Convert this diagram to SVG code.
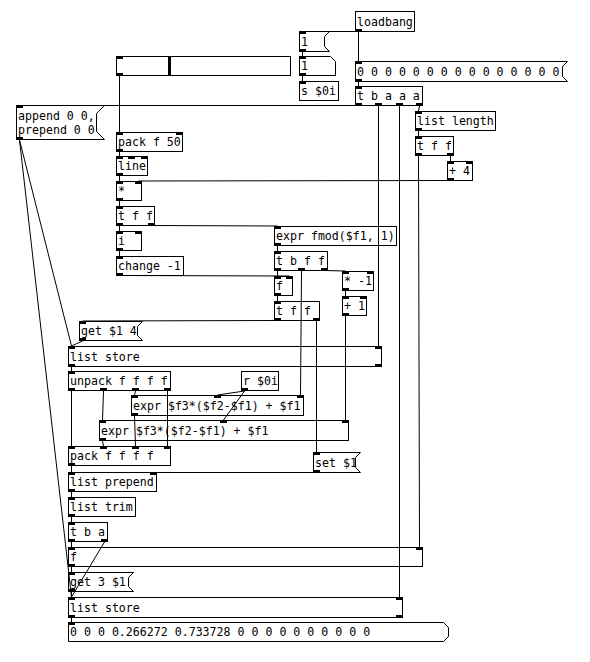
<svg xmlns="http://www.w3.org/2000/svg" width="590" height="662" viewBox="0 0 590 662">
<style>
.b{fill:#fff;stroke:#000;stroke-width:1}
.io{fill:#000}
text{font-family:"DejaVu Sans Mono","Liberation Mono",monospace;font-size:11.6px;fill:#000}
#connections line{stroke:#000;stroke-width:1}
</style>
<rect width="590" height="662" fill="#fff"/>
<g id="nodes">
<g id="loadbang"><rect class="b" x="355.5" y="11.5" width="59" height="20"/><rect class="io" x="355" y="29" width="7" height="3"/><text x="357" y="26">loadbang</text></g>
<g id="msg1"><polygon class="b" points="299.5,31.5 329.5,31.5 324.5,36.5 324.5,46.5 329.5,51.5 299.5,51.5"/><rect class="io" x="299" y="31" width="7" height="3"/><rect class="io" x="299" y="49" width="7" height="3"/><text x="301" y="46">1</text></g>
<g id="num1"><polygon class="b" points="299.5,56.5 330.5,56.5 335.5,61.5 335.5,75.5 299.5,75.5"/><rect class="io" x="299" y="56" width="7" height="3"/><rect class="io" x="299" y="73" width="7" height="3"/><text x="301" y="70">1</text></g>
<g id="send0i"><rect class="b" x="299.5" y="81.5" width="39" height="19"/><rect class="io" x="299" y="81" width="7" height="3"/><text x="301" y="95">s $0i</text></g>
<g id="zeros"><polygon class="b" points="355.5,61.5 567.5,61.5 562.5,66.5 562.5,76.5 567.5,81.5 355.5,81.5"/><rect class="io" x="355" y="61" width="7" height="3"/><rect class="io" x="355" y="79" width="7" height="3"/><text x="357" y="76">0 0 0 0 0 0 0 0 0 0 0 0 0 0 0</text></g>
<g id="tbaaa"><rect class="b" x="355.5" y="86.5" width="67" height="19"/><rect class="io" x="355" y="86" width="7" height="3"/><rect class="io" x="355" y="103" width="7" height="3"/><rect class="io" x="375" y="103" width="7" height="3"/><rect class="io" x="396" y="103" width="7" height="3"/><rect class="io" x="416" y="103" width="7" height="3"/><text x="357" y="100">t b a a a</text></g>
<g id="appendmsg"><polygon class="b" points="16.5,105.5 104.5,105.5 96.5,113.5 96.5,131.5 104.5,139.5 16.5,139.5"/><rect class="io" x="16" y="105" width="7" height="3"/><rect class="io" x="16" y="137" width="7" height="3"/><text x="18" y="120">append 0 0,</text><text x="18" y="134">prepend 0 0</text></g>
<g id="slider"><rect class="b" x="116.5" y="56.5" width="174" height="19"/><rect class="io" x="116" y="56" width="7" height="3"/><rect class="io" x="116" y="73" width="7" height="3"/><rect class="io" x="168" y="57" width="3" height="18"/></g>
<g id="packf50"><rect class="b" x="116.5" y="132.5" width="66" height="19"/><rect class="io" x="116" y="132" width="7" height="3"/><rect class="io" x="176" y="132" width="7" height="3"/><rect class="io" x="116" y="149" width="7" height="3"/><text x="118" y="146">pack f 50</text></g>
<g id="line"><rect class="b" x="116.5" y="156.5" width="31" height="19"/><rect class="io" x="116" y="156" width="7" height="3"/><rect class="io" x="128" y="156" width="7" height="3"/><rect class="io" x="141" y="156" width="7" height="3"/><rect class="io" x="116" y="173" width="7" height="3"/><text x="118" y="170">line</text></g>
<g id="mul"><rect class="b" x="116.5" y="181.5" width="25" height="19"/><rect class="io" x="116" y="181" width="7" height="3"/><rect class="io" x="135" y="181" width="7" height="3"/><rect class="io" x="116" y="198" width="7" height="3"/><text x="118" y="195">*</text></g>
<g id="tff1"><rect class="b" x="116.5" y="206.5" width="38" height="19"/><rect class="io" x="116" y="206" width="7" height="3"/><rect class="io" x="116" y="223" width="7" height="3"/><rect class="io" x="148" y="223" width="7" height="3"/><text x="118" y="220">t f f</text></g>
<g id="int"><rect class="b" x="116.5" y="231.5" width="25" height="19"/><rect class="io" x="116" y="231" width="7" height="3"/><rect class="io" x="135" y="231" width="7" height="3"/><rect class="io" x="116" y="248" width="7" height="3"/><text x="118" y="245">i</text></g>
<g id="change"><rect class="b" x="116.5" y="256.5" width="67" height="19"/><rect class="io" x="116" y="256" width="7" height="3"/><rect class="io" x="116" y="273" width="7" height="3"/><text x="118" y="270">change -1</text></g>
<g id="listlength"><rect class="b" x="415.5" y="111.5" width="80" height="19"/><rect class="io" x="415" y="111" width="7" height="3"/><rect class="io" x="415" y="128" width="7" height="3"/><text x="417" y="125">list length</text></g>
<g id="tffR"><rect class="b" x="415.5" y="136.5" width="38" height="19"/><rect class="io" x="415" y="136" width="7" height="3"/><rect class="io" x="415" y="153" width="7" height="3"/><rect class="io" x="447" y="153" width="7" height="3"/><text x="417" y="150">t f f</text></g>
<g id="plus4"><rect class="b" x="447.5" y="161.5" width="25" height="19"/><rect class="io" x="447" y="161" width="7" height="3"/><rect class="io" x="466" y="161" width="7" height="3"/><rect class="io" x="447" y="178" width="7" height="3"/><text x="449" y="175">+ 4</text></g>
<g id="exprfmod"><rect class="b" x="274.5" y="226.5" width="122" height="19"/><rect class="io" x="274" y="226" width="7" height="3"/><rect class="io" x="274" y="243" width="7" height="3"/><text x="276" y="240">expr fmod($f1, 1)</text></g>
<g id="tbff"><rect class="b" x="274.5" y="251.5" width="53" height="19"/><rect class="io" x="274" y="251" width="7" height="3"/><rect class="io" x="274" y="268" width="7" height="3"/><rect class="io" x="298" y="268" width="7" height="3"/><rect class="io" x="321" y="268" width="7" height="3"/><text x="276" y="265">t b f f</text></g>
<g id="fmid"><rect class="b" x="274.5" y="276.5" width="18" height="19"/><rect class="io" x="274" y="276" width="7" height="3"/><rect class="io" x="286" y="276" width="7" height="3"/><rect class="io" x="274" y="293" width="7" height="3"/><text x="276" y="290">f</text></g>
<g id="tffmid"><rect class="b" x="274.5" y="301.5" width="45" height="19"/><rect class="io" x="274" y="301" width="7" height="3"/><rect class="io" x="274" y="318" width="7" height="3"/><rect class="io" x="313" y="318" width="7" height="3"/><text x="276" y="315">t f f</text></g>
<g id="mulm1"><rect class="b" x="342.5" y="271.5" width="31" height="19"/><rect class="io" x="342" y="271" width="7" height="3"/><rect class="io" x="367" y="271" width="7" height="3"/><rect class="io" x="342" y="288" width="7" height="3"/><text x="344" y="285">* -1</text></g>
<g id="plus1"><rect class="b" x="342.5" y="296.5" width="24" height="19"/><rect class="io" x="342" y="296" width="7" height="3"/><rect class="io" x="360" y="296" width="7" height="3"/><rect class="io" x="342" y="313" width="7" height="3"/><text x="344" y="310">+ 1</text></g>
<g id="get14"><polygon class="b" points="79.5,321.5 142.5,321.5 137.5,326.5 137.5,335.5 142.5,340.5 79.5,340.5"/><rect class="io" x="79" y="321" width="7" height="3"/><rect class="io" x="79" y="338" width="7" height="3"/><text x="81" y="335">get $1 4</text></g>
<g id="liststore1"><rect class="b" x="68.5" y="346.5" width="313" height="20"/><rect class="io" x="68" y="346" width="7" height="3"/><rect class="io" x="375" y="346" width="7" height="3"/><rect class="io" x="68" y="364" width="7" height="3"/><rect class="io" x="375" y="364" width="7" height="3"/><text x="70" y="361">list store</text></g>
<g id="unpack"><rect class="b" x="68.5" y="371.5" width="102" height="19"/><rect class="io" x="68" y="371" width="7" height="3"/><rect class="io" x="68" y="388" width="7" height="3"/><rect class="io" x="100" y="388" width="7" height="3"/><rect class="io" x="132" y="388" width="7" height="3"/><rect class="io" x="164" y="388" width="7" height="3"/><text x="70" y="385">unpack f f f f</text></g>
<g id="r0i"><rect class="b" x="241.5" y="371.5" width="37" height="19"/><rect class="io" x="241" y="388" width="7" height="3"/><text x="243" y="385">r $0i</text></g>
<g id="expr1"><rect class="b" x="131.5" y="395.5" width="172" height="20"/><rect class="io" x="131" y="395" width="7" height="3"/><rect class="io" x="214" y="395" width="7" height="3"/><rect class="io" x="297" y="395" width="7" height="3"/><rect class="io" x="131" y="413" width="7" height="3"/><text x="133" y="410">expr $f3*($f2-$f1) + $f1</text></g>
<g id="expr2"><rect class="b" x="99.5" y="420.5" width="249" height="20"/><rect class="io" x="99" y="420" width="7" height="3"/><rect class="io" x="220" y="420" width="7" height="3"/><rect class="io" x="342" y="420" width="7" height="3"/><rect class="io" x="99" y="438" width="7" height="3"/><text x="101" y="435">expr $f3*($f2-$f1) + $f1</text></g>
<g id="pack4"><rect class="b" x="68.5" y="446.5" width="102" height="19"/><rect class="io" x="68" y="446" width="7" height="3"/><rect class="io" x="100" y="446" width="7" height="3"/><rect class="io" x="132" y="446" width="7" height="3"/><rect class="io" x="164" y="446" width="7" height="3"/><rect class="io" x="68" y="463" width="7" height="3"/><text x="70" y="460">pack f f f f</text></g>
<g id="set1"><polygon class="b" points="313.5,452.5 360.5,452.5 355.5,457.5 355.5,467.5 360.5,472.5 313.5,472.5"/><rect class="io" x="313" y="452" width="7" height="3"/><rect class="io" x="313" y="470" width="7" height="3"/><text x="315" y="467">set $1</text></g>
<g id="listprepend"><rect class="b" x="68.5" y="472.5" width="88" height="19"/><rect class="io" x="68" y="472" width="7" height="3"/><rect class="io" x="150" y="472" width="7" height="3"/><rect class="io" x="68" y="489" width="7" height="3"/><text x="70" y="486">list prepend</text></g>
<g id="listtrim"><rect class="b" x="68.5" y="497.5" width="67" height="19"/><rect class="io" x="68" y="497" width="7" height="3"/><rect class="io" x="68" y="514" width="7" height="3"/><text x="70" y="511">list trim</text></g>
<g id="tba"><rect class="b" x="68.5" y="522.5" width="39" height="19"/><rect class="io" x="68" y="522" width="7" height="3"/><rect class="io" x="68" y="539" width="7" height="3"/><rect class="io" x="101" y="539" width="7" height="3"/><text x="70" y="536">t b a</text></g>
<g id="fwide"><rect class="b" x="68.5" y="547.5" width="354" height="19"/><rect class="io" x="68" y="547" width="7" height="3"/><rect class="io" x="416" y="547" width="7" height="3"/><rect class="io" x="68" y="564" width="7" height="3"/><text x="70" y="561">f</text></g>
<g id="get31"><polygon class="b" points="68.5,572.5 133.5,572.5 128.5,577.5 128.5,586.5 133.5,591.5 68.5,591.5"/><rect class="io" x="68" y="572" width="7" height="3"/><rect class="io" x="68" y="589" width="7" height="3"/><text x="70" y="586">get 3 $1</text></g>
<g id="liststore2"><rect class="b" x="68.5" y="597.5" width="334" height="20"/><rect class="io" x="68" y="597" width="7" height="3"/><rect class="io" x="396" y="597" width="7" height="3"/><rect class="io" x="68" y="615" width="7" height="3"/><rect class="io" x="396" y="615" width="7" height="3"/><text x="70" y="612">list store</text></g>
<g id="listatom"><polygon class="b" points="68.5,622.5 443.5,622.5 448.5,627.5 448.5,636.5 443.5,641.5 68.5,641.5"/><rect class="io" x="68" y="622" width="7" height="3"/><text x="70" y="636">0 0 0 0.266272 0.733728 0 0 0 0 0 0 0 0 0 0</text></g>
</g>
<g id="connections">
<line x1="358.5" y1="31.5" x2="302.5" y2="31.5"/>
<line x1="358.5" y1="32" x2="358.5" y2="61"/>
<line x1="302.5" y1="52" x2="302.5" y2="56"/>
<line x1="302.5" y1="76" x2="302.5" y2="81"/>
<line x1="358.5" y1="82" x2="358.5" y2="86"/>
<line x1="358.5" y1="105.5" x2="19.5" y2="105.5"/>
<line x1="378.5" y1="106" x2="378.5" y2="346"/>
<line x1="399.5" y1="106" x2="399.5" y2="597"/>
<line x1="419.5" y1="106" x2="418.5" y2="111"/>
<line x1="418.5" y1="131" x2="418.5" y2="136"/>
<line x1="418.5" y1="156" x2="419.5" y2="547"/>
<line x1="450.5" y1="156" x2="450.5" y2="161"/>
<line x1="450.5" y1="180.5" x2="138.5" y2="181"/>
<line x1="119.5" y1="76" x2="119.5" y2="132"/>
<line x1="119.5" y1="152" x2="119.5" y2="156"/>
<line x1="119.5" y1="176" x2="119.5" y2="181"/>
<line x1="119.5" y1="201" x2="119.5" y2="206"/>
<line x1="119.5" y1="226" x2="119.5" y2="231"/>
<line x1="151.5" y1="225.5" x2="277.5" y2="226"/>
<line x1="119.5" y1="251" x2="119.5" y2="256"/>
<line x1="119.5" y1="275.5" x2="289.5" y2="276"/>
<line x1="277.5" y1="246" x2="277.5" y2="251"/>
<line x1="277.5" y1="271" x2="277.5" y2="276"/>
<line x1="301.5" y1="271" x2="300.5" y2="395"/>
<line x1="324.5" y1="270.5" x2="345.5" y2="271"/>
<line x1="277.5" y1="296" x2="277.5" y2="301"/>
<line x1="277.5" y1="320.5" x2="82.5" y2="321"/>
<line x1="316.5" y1="321" x2="316.5" y2="452"/>
<line x1="345.5" y1="291" x2="345.5" y2="296"/>
<line x1="345.5" y1="316" x2="345.5" y2="420"/>
<line x1="82.5" y1="341" x2="71.5" y2="346"/>
<line x1="19.5" y1="140" x2="71.5" y2="346"/>
<line x1="19.5" y1="140" x2="71.5" y2="597"/>
<line x1="71.5" y1="367" x2="71.5" y2="371"/>
<line x1="71.5" y1="391" x2="71.5" y2="446"/>
<line x1="103.5" y1="391" x2="102.5" y2="420"/>
<line x1="135.5" y1="391" x2="134.5" y2="395"/>
<line x1="167.5" y1="391" x2="167.5" y2="446"/>
<line x1="244.5" y1="391" x2="217.5" y2="395"/>
<line x1="244.5" y1="391" x2="223.5" y2="420"/>
<line x1="134.5" y1="416" x2="135.5" y2="446"/>
<line x1="102.5" y1="441" x2="103.5" y2="446"/>
<line x1="316.5" y1="472.5" x2="153.5" y2="472.5"/>
<line x1="71.5" y1="466" x2="71.5" y2="472"/>
<line x1="71.5" y1="492" x2="71.5" y2="497"/>
<line x1="71.5" y1="517" x2="71.5" y2="522"/>
<line x1="71.5" y1="542" x2="71.5" y2="547"/>
<line x1="104.5" y1="542" x2="71.5" y2="597"/>
<line x1="71.5" y1="567" x2="71.5" y2="572"/>
<line x1="71.5" y1="592" x2="71.5" y2="597"/>
<line x1="71.5" y1="618" x2="71.5" y2="622"/>
</g>
</svg>
